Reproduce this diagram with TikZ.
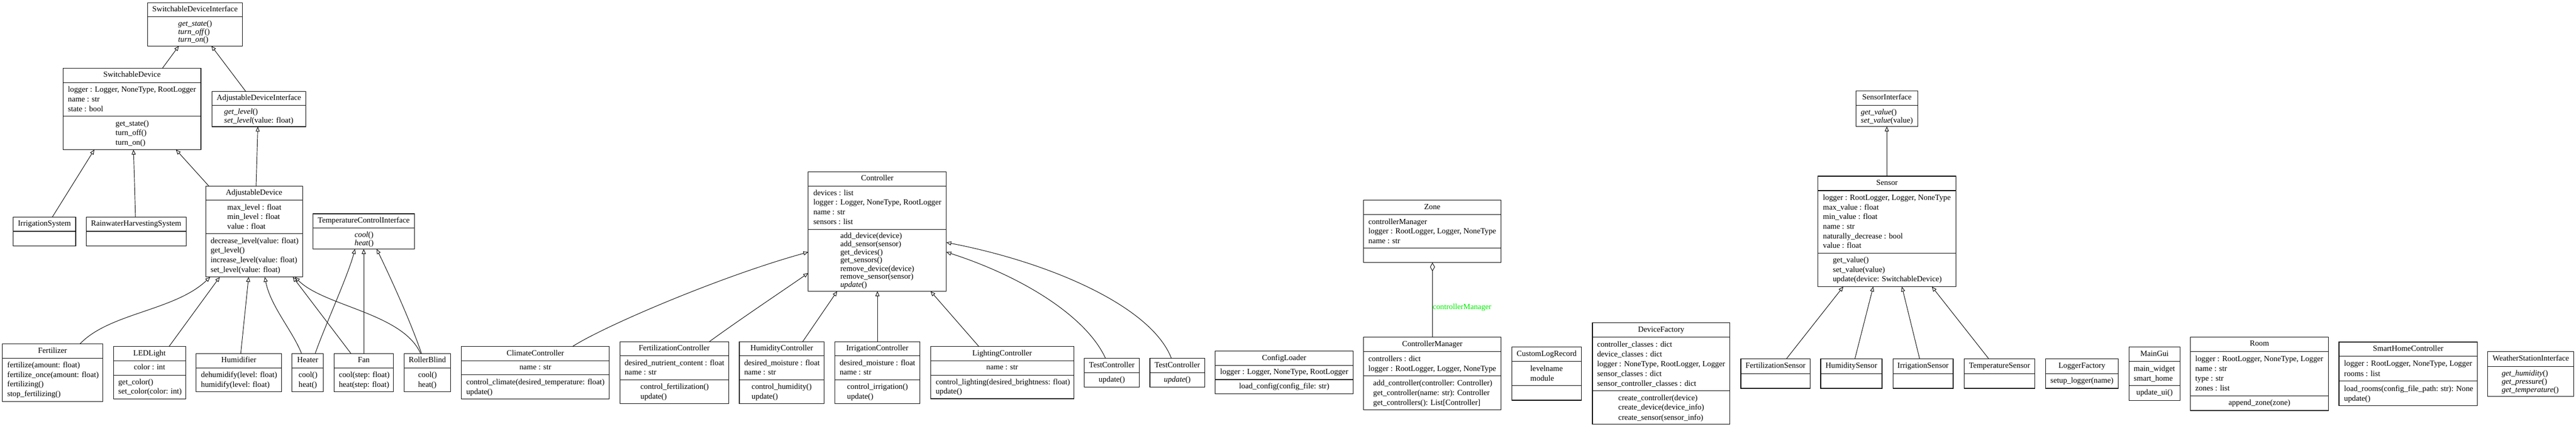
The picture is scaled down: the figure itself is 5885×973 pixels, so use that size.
\documentclass[tikz,border=0pt]{standalone}
\usepackage{fontspec}
\setmainfont{Liberation Serif}
\usetikzlibrary{arrows.meta,fit}
\definecolor{lblgreen}{RGB}{0,235,0}
\newcommand\clstitle[4]{\node[txt] (#1) at (#2.north |- 0,#3) {#4};}
\newcommand\clsline[4]{\node[txt,anchor=west] (#1) at (#2,#3) {#4};}
\newcommand\clssep[2]{\draw[sepl] (#1.west |- 0,#2) -- (#1.east |- 0,#2);}
\begin{document}
\begin{tikzpicture}[x=1pt,y=-1pt,
  font=\fontsize{18}{21}\selectfont,
  cls/.style={draw, line width=1.3pt, inner sep=0pt, outer sep=0pt},
  sepl/.style={line width=1.3pt},
  txt/.style={inner sep=0pt, text height=12.5pt, text depth=4pt},
  inh/.style={line width=1.1pt, -{Triangle[open,length=11pt,width=9pt]}},
  agg/.style={line width=1.1pt, -{Diamond[open,length=20pt,width=11pt]}},
  lbl/.style={txt, text=lblgreen}]
\useasboundingbox (0,0) rectangle (5885,973);

% ---------- SwitchableDeviceInterface
\node[cls, fit={(337,6) (554,105)}] (sdi) {};
\clssep{sdi}{38.5}
\clstitle{sdi-t}{sdi}{22}{SwitchableDeviceInterface}
\clsline{sdi-1}{407}{55}{\textit{get\_state}()}
\clsline{sdi-2}{407}{73.5}{\textit{turn\_off}()}
\clsline{sdi-3}{407}{92}{\textit{turn\_on}()}

% ---------- SwitchableDevice
\node[cls, fit={(144,156) (459,342)}] (sd) {};
\clssep{sd}{188.5}\clssep{sd}{265.5}
\clstitle{sd-t}{sd}{172}{SwitchableDevice}
\clsline{sd-1}{155}{206}{logger : Logger, NoneType, RootLogger}
\clsline{sd-2}{155}{228}{name : str}
\clsline{sd-3}{155}{250}{state : bool}
\clsline{sd-4}{264}{283.5}{get\_state()}
\clsline{sd-5}{264}{305}{turn\_off()}
\clsline{sd-6}{264}{327}{turn\_on()}

% ---------- AdjustableDeviceInterface
\node[cls, fit={(484,209) (699,289.5)}] (adi) {};
\clssep{adi}{241}
\clstitle{adi-t}{adi}{225}{AdjustableDeviceInterface}
\clsline{adi-1}{512}{257}{\textit{get\_level}()}
\clsline{adi-2}{512}{276}{\textit{set\_level}(value: float)}

% ---------- IrrigationSystem / Rainwater
\node[cls, fit={(30,496) (173,561.5)}] (irrsys) {};
\clssep{irrsys}{528.5}
\clstitle{irrsys-t}{irrsys}{512}{IrrigationSystem}
\node[cls, fit={(197,496) (425,561.5)}] (rain) {};
\clssep{rain}{528.5}
\clstitle{rain-t}{rain}{512}{RainwaterHarvestingSystem}

% ---------- AdjustableDevice
\node[cls, fit={(470,425) (691,633)}] (ad) {};
\clssep{ad}{457.5}\clssep{ad}{534}
\clstitle{ad-t}{ad}{441}{AdjustableDevice}
\clsline{ad-1}{519}{475}{max\_level : float}
\clsline{ad-2}{519}{497}{min\_level : float}
\clsline{ad-3}{519}{519}{value : float}
\clsline{ad-4}{481}{551.5}{decrease\_level(value: float)}
\clsline{ad-5}{481}{573.5}{get\_level()}
\clsline{ad-6}{481}{595.5}{increase\_level(value: float)}
\clsline{ad-7}{481}{617.5}{set\_level(value: float)}

% ---------- Fertilizer
\node[cls, fit={(5,785.5) (235,917)}] (fert) {};
\clssep{fert}{818.5}
\clstitle{fert-t}{fert}{802}{Fertilizer}
\clsline{fert-1}{16.5}{835.5}{fertilize(amount: float)}
\clsline{fert-2}{16.5}{857.5}{fertilize\_once(amount: float)}
\clsline{fert-3}{16.5}{879.5}{fertilizing()}
\clsline{fert-4}{16.5}{901.5}{stop\_fertilizing()}

% ---------- LEDLight
\node[cls, fit={(259,792) (424,911.5)}] (led) {};
\clssep{led}{824}\clssep{led}{857}
\clstitle{led-t}{led}{808}{LEDLight}
\clstitle{led-1}{led}{840.5}{color : int}
\clsline{led-2}{270}{874.5}{get\_color()}
\clsline{led-3}{270}{896}{set\_color(color: int)}

% ---------- Humidifier
\node[cls, fit={(448,808) (643,895)}] (humf) {};
\clssep{humf}{840.5}
\clstitle{humf-t}{humf}{824}{Humidifier}
\clsline{humf-1}{459}{858}{dehumidify(level: float)}
\clsline{humf-2}{459}{880}{humidify(level: float)}

% ---------- Heater, Fan, RollerBlind
\node[cls, fit={(667,808) (739,895)}] (heater) {};
\clssep{heater}{840.5}
\clstitle{heater-t}{heater}{824}{Heater}
\clsline{heater-1}{682}{858}{cool()}
\clsline{heater-2}{682}{880}{heat()}
\node[cls, fit={(763,808) (899,895)}] (fan) {};
\clssep{fan}{840.5}
\clstitle{fan-t}{fan}{824}{Fan}
\clsline{fan-1}{774}{858}{cool(step: float)}
\clsline{fan-2}{774}{880}{heat(step: float)}
\node[cls, fit={(923.5,808) (1029,895)}] (roller) {};
\clssep{roller}{840.5}
\clstitle{roller-t}{roller}{824}{RollerBlind}
\clsline{roller-1}{955}{858}{cool()}
\clsline{roller-2}{955}{880}{heat()}

% ---------- TemperatureControlInterface
\node[cls, fit={(715,488.5) (947,569)}] (tci) {};
\clssep{tci}{521}
\clstitle{tci-t}{tci}{505}{TemperatureControlInterface}
\clsline{tci-1}{810}{538}{\textit{cool}()}
\clsline{tci-2}{810}{556.5}{\textit{heat}()}

% ---------- ClimateController
\node[cls, fit={(1054,792) (1392,911.5)}] (climate) {};
\clssep{climate}{824}\clssep{climate}{856.5}
\clstitle{climate-t}{climate}{808}{ClimateController}
\clstitle{climate-1}{climate}{840.5}{name : str}
\clsline{climate-2}{1065}{874.5}{control\_climate(desired\_temperature: float)}
\clsline{climate-3}{1065}{896.5}{update()}

% ---------- Controller
\node[cls, fit={(1846.5,392.5) (2162,665.5)}] (ctrl) {};
\clssep{ctrl}{425}\clssep{ctrl}{524}
\clstitle{ctrl-t}{ctrl}{408.5}{Controller}
\clsline{ctrl-1}{1858}{442}{devices : list}
\clsline{ctrl-2}{1858}{464}{logger : Logger, NoneType, RootLogger}
\clsline{ctrl-3}{1858}{486.5}{name : str}
\clsline{ctrl-4}{1858}{508.5}{sensors : list}
\clsline{ctrl-5}{1919.5}{540.5}{add\_device(device)}
\clsline{ctrl-6}{1919.5}{559}{add\_sensor(sensor)}
\clsline{ctrl-7}{1919.5}{577.5}{get\_devices()}
\clsline{ctrl-8}{1919.5}{596}{get\_sensors()}
\clsline{ctrl-9}{1919.5}{615}{remove\_device(device)}
\clsline{ctrl-10}{1919.5}{633.5}{remove\_sensor(sensor)}
\clsline{ctrl-11}{1919.5}{652.5}{\textit{update}()}

% ---------- FertilizationController
\node[cls, fit={(1416,781) (1664.5,922.5)}] (fertctrl) {};
\clssep{fertctrl}{813}\clssep{fertctrl}{868}
\clstitle{fertctrl-t}{fertctrl}{797}{FertilizationController}
\clsline{fertctrl-1}{1427}{830.5}{desired\_nutrient\_content : float}
\clsline{fertctrl-2}{1427}{852.5}{name : str}
\clsline{fertctrl-3}{1463}{885.5}{control\_fertilization()}
\clsline{fertctrl-4}{1463}{907.5}{update()}

% ---------- HumidityController
\node[cls, fit={(1689,781) (1883,922.5)}] (humctrl) {};
\clssep{humctrl}{813}\clssep{humctrl}{868}
\clstitle{humctrl-t}{humctrl}{797}{HumidityController}
\clsline{humctrl-1}{1700}{830.5}{desired\_moisture : float}
\clsline{humctrl-2}{1700}{852.5}{name : str}
\clsline{humctrl-3}{1717}{885.5}{control\_humidity()}
\clsline{humctrl-4}{1717}{907.5}{update()}

% ---------- IrrigationController
\node[cls, fit={(1907,781) (2101.5,922.5)}] (irrctrl) {};
\clssep{irrctrl}{813}\clssep{irrctrl}{868}
\clstitle{irrctrl-t}{irrctrl}{797}{IrrigationController}
\clsline{irrctrl-1}{1918}{830.5}{desired\_moisture : float}
\clsline{irrctrl-2}{1918}{852.5}{name : str}
\clsline{irrctrl-3}{1935}{885.5}{control\_irrigation()}
\clsline{irrctrl-4}{1935}{907.5}{update()}

% ---------- LightingController
\node[cls, fit={(2126,792) (2453,911)}] (lightctrl) {};
\clssep{lightctrl}{824}\clssep{lightctrl}{857}
\clstitle{lightctrl-t}{lightctrl}{808}{LightingController}
\clstitle{lightctrl-1}{lightctrl}{840.5}{name : str}
\clsline{lightctrl-2}{2137.5}{874.5}{control\_lighting(desired\_brightness: float)}
\clsline{lightctrl-3}{2137.5}{895.5}{update()}

% ---------- TestControllers
\node[cls, fit={(2477,818.5) (2603,884)}] (test1) {};
\clssep{test1}{851.5}
\clstitle{test1-t}{test1}{835}{TestController}
\clstitle{test1-1}{test1}{868.5}{update()}
\node[cls, fit={(2627,818.5) (2752,884)}] (test2) {};
\clssep{test2}{851.5}
\clstitle{test2-t}{test2}{835}{TestController}
\clstitle{test2-1}{test2}{868.5}{\textit{update}()}

% ---------- ConfigLoader
\node[cls, fit={(2776,802) (3091.5,900)}] (config) {};
\clssep{config}{835}\clssep{config}{867.5}
\clstitle{config-t}{config}{818.5}{ConfigLoader}
\clstitle{config-1}{config}{851}{logger : Logger, NoneType, RootLogger}
\clstitle{config-2}{config}{884}{load\_config(config\_file: str)}

% ---------- Zone
\node[cls, fit={(3115,457.5) (3429,600)}] (zone) {};
\clssep{zone}{490.5}\clssep{zone}{567}
\clstitle{zone-t}{zone}{474}{Zone}
\clsline{zone-1}{3126}{508.5}{controllerManager}
\clsline{zone-2}{3126}{530}{logger : RootLogger, Logger, NoneType}
\clsline{zone-3}{3126}{552}{name : str}

% ---------- ControllerManager
\node[cls, fit={(3115,770) (3429.5,936)}] (cm) {};
\clssep{cm}{803.5}\clssep{cm}{858.5}
\clstitle{cm-t}{cm}{787}{ControllerManager}
\clsline{cm-1}{3126}{821}{controllers : dict}
\clsline{cm-2}{3126}{843.5}{logger : RootLogger, Logger, NoneType}
\clsline{cm-3}{3137}{877}{add\_controller(controller: Controller)}
\clsline{cm-4}{3137}{899}{get\_controller(name: str): Controller}
\clsline{cm-5}{3137}{921}{get\_controllers(): List[Controller]}

% ---------- CustomLogRecord
\node[cls, fit={(3454,793) (3613,914.5)}] (clr) {};
\clssep{clr}{826}\clssep{clr}{881}
\clstitle{clr-t}{clr}{809.5}{CustomLogRecord}
\clsline{clr-1}{3496}{844}{levelname}
\clsline{clr-2}{3496}{866}{module}

% ---------- DeviceFactory
\node[cls, fit={(3638,737.5) (3952,969)}] (df) {};
\clssep{df}{770.5}\clssep{df}{892.5}
\clstitle{df-t}{df}{754}{DeviceFactory}
\clsline{df-1}{3648.5}{788.5}{controller\_classes : dict}
\clsline{df-2}{3648.5}{811}{device\_classes : dict}
\clsline{df-3}{3648.5}{833}{logger : NoneType, RootLogger, Logger}
\clsline{df-4}{3648.5}{855}{sensor\_classes : dict}
\clsline{df-5}{3648.5}{877.5}{sensor\_controller\_classes : dict}
\clsline{df-6}{3697}{910.5}{create\_controller(device)}
\clsline{df-7}{3697}{932.5}{create\_device(device\_info)}
\clsline{df-8}{3697}{955}{create\_sensor(sensor\_info)}

% ---------- Sensors
\node[cls, fit={(3977,820) (4135.5,887.5)}] (fsens) {};
\clssep{fsens}{854}
\clstitle{fsens-t}{fsens}{837}{FertilizationSensor}
\node[cls, fit={(4159.5,820) (4299.5,887.5)}] (hsens) {};
\clssep{hsens}{854}
\clstitle{hsens-t}{hsens}{837}{HumiditySensor}
\node[cls, fit={(4324.5,820) (4462,887.5)}] (isens) {};
\clssep{isens}{854}
\clstitle{isens-t}{isens}{837}{IrrigationSensor}
\node[cls, fit={(4487,820) (4649,887.5)}] (tsens) {};
\clssep{tsens}{854}
\clstitle{tsens-t}{tsens}{837}{TemperatureSensor}

% ---------- LoggerFactory
\node[cls, fit={(4673,820) (4839.5,887.5)}] (lf) {};
\clssep{lf}{854}
\clstitle{lf-t}{lf}{837}{LoggerFactory}
\clstitle{lf-1}{lf}{871}{setup\_logger(name)}

% ---------- MainGui
\node[cls, fit={(4864,793) (4980,915.5)}] (gui) {};
\clssep{gui}{826}\clssep{gui}{881.5}
\clstitle{gui-t}{gui}{809.5}{MainGui}
\clsline{gui-1}{4874.5}{844}{main\_widget}
\clsline{gui-2}{4874.5}{866.5}{smart\_home}
\clstitle{gui-3}{gui}{898.5}{update\_ui()}

% ---------- Room
\node[cls, fit={(5004,770) (5319.5,938)}] (room) {};
\clssep{room}{803}\clssep{room}{904.5}
\clstitle{room-t}{room}{786.5}{Room}
\clsline{room-1}{5015}{821.5}{logger : RootLogger, NoneType, Logger}
\clsline{room-2}{5015}{844}{name : str}
\clsline{room-3}{5015}{866.5}{type : str}
\clsline{room-4}{5015}{889}{zones : list}
\clstitle{room-5}{room}{921}{append\_zone(zone)}

% ---------- SmartHomeController
\node[cls, fit={(5343.5,781.5) (5659.5,927)}] (shc) {};
\clssep{shc}{814}\clssep{shc}{870.5}
\clstitle{shc-t}{shc}{798}{SmartHomeController}
\clsline{shc-1}{5355}{832}{logger : RootLogger, NoneType, Logger}
\clsline{shc-2}{5355}{855}{rooms : list}
\clsline{shc-3}{5355}{889.5}{load\_rooms(config\_file\_path: str): None}
\clsline{shc-4}{5355}{912}{update()}

% ---------- WeatherStationInterface
\node[cls, fit={(5683.5,803) (5880,905.5)}] (wsi) {};
\clssep{wsi}{837}
\clstitle{wsi-t}{wsi}{820}{WeatherStationInterface}
\clsline{wsi-1}{5715}{854}{\textit{get\_humidity}()}
\clsline{wsi-2}{5715}{873}{\textit{get\_pressure}()}
\clsline{wsi-3}{5715}{892.5}{\textit{get\_temperature}()}

% ---------- Sensor
\node[cls, fit={(4153.5,402.5) (4468.5,655)}] (sensor) {};
\clssep{sensor}{435.5}\clssep{sensor}{578}
\clstitle{sensor-t}{sensor}{419}{Sensor}
\clsline{sensor-1}{4164.5}{453}{logger : RootLogger, Logger, NoneType}
\clsline{sensor-2}{4164.5}{475.5}{max\_value : float}
\clsline{sensor-3}{4164.5}{497}{min\_value : float}
\clsline{sensor-4}{4164.5}{519}{name : str}
\clsline{sensor-5}{4164.5}{541}{naturally\_decrease : bool}
\clsline{sensor-6}{4164.5}{563}{value : float}
\clsline{sensor-7}{4187}{595}{get\_value()}
\clsline{sensor-8}{4187}{617.5}{set\_value(value)}
\clsline{sensor-9}{4187}{639}{update(device: SwitchableDevice)}

% ---------- SensorInterface
\node[cls, fit={(4240.5,208) (4381,289)}] (sensorif) {};
\clssep{sensorif}{240.5}
\clstitle{sensorif-t}{sensorif}{224}{SensorInterface}
\clsline{sensorif-1}{4251}{257.5}{\textit{get\_value}()}
\clsline{sensorif-2}{4251}{276.5}{\textit{set\_value}(value)}

% ================= connectors
\draw[inh] (sd.north -| 371,0) -- (sdi.south -| 408.5,0);
\draw[inh] (adi.north -| 561.5,0) -- (sdi.south -| 483,0);
\draw[inh] (irrsys.north -| 119.5,0) -- (sd.south -| 215.5,0);
\draw[inh] (rain.north -| 309.5,0) -- (sd.south -| 305,0);
\draw[inh] (ad.north -| 477,0) -- (sd.south -| 402,0);
\draw[inh] (ad.north -| 585,0) -- (adi.south -| 589,0);
\draw[inh] (fert.north -| 183,0) .. controls (250,715) and (400,710) .. (ad.south -| 480,0);
\draw[inh] (led.north -| 386,0) -- (ad.south -| 502,0);
\draw[inh] (humf.north -| 550,0) -- (ad.south -| 568,0);
\draw[inh] (heater.north -| 689,0) .. controls (668,755) and (618,700) .. (ad.south -| 605,0);
\draw[inh] (heater.north -| 720,0) .. controls (740,750) and (795,630) .. (tci.south -| 811,0);
\draw[inh] (fan.north -| 802,0) -- (ad.south -| 669,0);
\draw[inh] (fan.north -| 831,0) -- (tci.south -| 831,0);
\draw[inh] (roller.north -| 961,0) .. controls (920,715) and (740,700) .. (ad.south -| 674,0);
\draw[inh] (roller.north -| 963,0) .. controls (940,740) and (895,640) .. (tci.south -| 860.5,0);
\draw[inh] (climate.north -| 1307.5,0) .. controls (1380,745) and (1650,630) .. (ctrl.west |- 0,576);
\draw[inh] (fertctrl.north -| 1620,0) .. controls (1690,730) and (1780,670) .. (ctrl.west |- 0,624);
\draw[inh] (humctrl.north -| 1833.5,0) -- (ctrl.south -| 1912.5,0);
\draw[inh] (irrctrl.north -| 2004.5,0) -- (ctrl.south -| 2004.5,0);
\draw[inh] (lightctrl.north -| 2236.5,0) -- (ctrl.south -| 2126,0);
\draw[inh] (test1.north -| 2525.5,0) .. controls (2480,720) and (2330,630) .. (ctrl.east |- 0,576);
\draw[inh] (test2.north -| 2676,0) .. controls (2630,700) and (2400,600) .. (ctrl.east |- 0,554);
\draw[agg] (cm.north -| 3272.5,0) -- (zone.south -| 3272.5,0);
\node[lbl, anchor=west] (cm-label) at (3273,703) {controllerManager};
\draw[inh] (sensor.north -| 4310.5,0) -- (sensorif.south -| 4310.5,0);
\draw[inh] (fsens.north -| 4081,0) -- (sensor.south -| 4211,0);
\draw[inh] (hsens.north -| 4237.5,0) -- (sensor.south -| 4279.5,0);
\draw[inh] (isens.north -| 4385.5,0) -- (sensor.south -| 4345,0);
\draw[inh] (tsens.north -| 4543.5,0) -- (sensor.south -| 4413.5,0);
\end{tikzpicture}
\end{document}
